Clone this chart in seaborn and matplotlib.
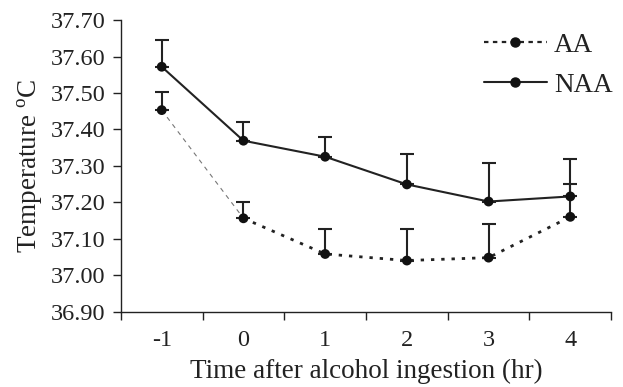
import numpy as np
import pandas as pd
import matplotlib
matplotlib.use("Agg")
import matplotlib.pyplot as plt
import seaborn as sns
from matplotlib.lines import Line2D

time_labels = ['-1', '0', '1', '2', '3', '4']
aa_mean = [37.453, 37.156, 37.058, 37.040, 37.048, 37.160]
aa_err = [0.049, 0.044, 0.069, 0.087, 0.093, 0.089]
naa_mean = [37.572, 37.369, 37.325, 37.249, 37.202, 37.216]
naa_err = [0.073, 0.050, 0.053, 0.083, 0.107, 0.102]
y_ticks = [36.90, 37.00, 37.10, 37.20, 37.30, 37.40, 37.50, 37.60, 37.70]

sns.set_theme(style="ticks")
plt.rcParams['font.family'] = ['Liberation Serif', 'DejaVu Serif']
plt.rcParams['mathtext.fontset'] = 'custom'
plt.rcParams['mathtext.rm'] = 'Liberation Serif'

pos = np.arange(len(time_labels))
df_aa = pd.DataFrame({'x': pos, 'y': aa_mean, 'e': aa_err})
df_naa = pd.DataFrame({'x': pos, 'y': naa_mean, 'e': naa_err})

fig = plt.figure(figsize=(6.23, 3.87), dpi=100)
ax = fig.add_axes([0.194, 0.195, 0.787, 0.753])

# NAA solid line
sns.lineplot(data=df_naa, x='x', y='y', ax=ax, color='#222222', lw=1.5,
             linestyle='-', sort=False, zorder=3)
# AA line: first segment thin gray dashed, rest dotted
sns.lineplot(data=df_aa.iloc[:2], x='x', y='y', ax=ax, color='#777777', lw=0.8,
             linestyle=(0, (4, 4)), sort=False, zorder=2)
sns.lineplot(data=df_aa.iloc[1:], x='x', y='y', ax=ax, color='#222222', lw=2.0,
             linestyle=(0, (1.2, 2.5)), sort=False, zorder=2)

# one-sided error bars
for d in (df_naa, df_aa):
    ax.errorbar(d['x'], d['y'], yerr=[np.zeros(len(d)), d['e']], fmt='none',
                ecolor='#222222', elinewidth=1.5, capsize=5, capthick=1.5, zorder=4)

sns.scatterplot(data=df_naa, x='x', y='y', ax=ax, color='#111111', s=50,
                edgecolor='none', zorder=5)
sns.scatterplot(data=df_aa, x='x', y='y', ax=ax, color='#111111', s=50,
                edgecolor='none', zorder=5)

ax.set_xlim(-0.5, len(time_labels) - 0.5)
ax.set_ylim(36.90, 37.70)
ax.set_yticks(y_ticks)
ax.set_yticklabels([f"{v:.2f}" for v in y_ticks])
ax.set_xticks(np.arange(-0.5, len(time_labels), 1.0))
ax.set_xticklabels([])
ax.set_xticks(pos, minor=True)
ax.set_xticklabels(time_labels, minor=True)
ax.tick_params(axis='x', which='major', length=6, width=1, color='#222222', direction='out')
ax.tick_params(axis='x', which='minor', length=0, pad=13, labelsize=17.5, labelcolor='#222222')
ax.tick_params(axis='y', length=6, width=1, color='#222222', labelsize=17.5,
               labelcolor='#222222', direction='out', pad=5)
for s in ('top', 'right'):
    ax.spines[s].set_visible(False)
for s in ('left', 'bottom'):
    ax.spines[s].set_color('#222222')
    ax.spines[s].set_linewidth(1.0)

ax.set_xlabel('Time after alcohol ingestion (hr)', fontsize=19.5, color='#222222', labelpad=6)
ax.set_ylabel(r'Temperature $^{\mathrm{o}}$C', fontsize=19.5, color='#222222', labelpad=4)

handles = [
    Line2D([0], [0], color='#222222', lw=1.6, linestyle=(0, (2, 2)), marker='o',
           markersize=6.5, markerfacecolor='#111111', markeredgecolor='#111111'),
    Line2D([0], [0], color='#222222', lw=1.5, linestyle='-', marker='o',
           markersize=6.5, markerfacecolor='#111111', markeredgecolor='#111111'),
]
ax.legend(handles, ['AA', 'NAA'], loc='upper right', bbox_to_anchor=(1.053, 1.04),
          frameon=False, fontsize=19.5, handlelength=2.35, handletextpad=0.25,
          labelspacing=0.55, labelcolor='#222222')

fig.savefig('out.png', dpi=100)
